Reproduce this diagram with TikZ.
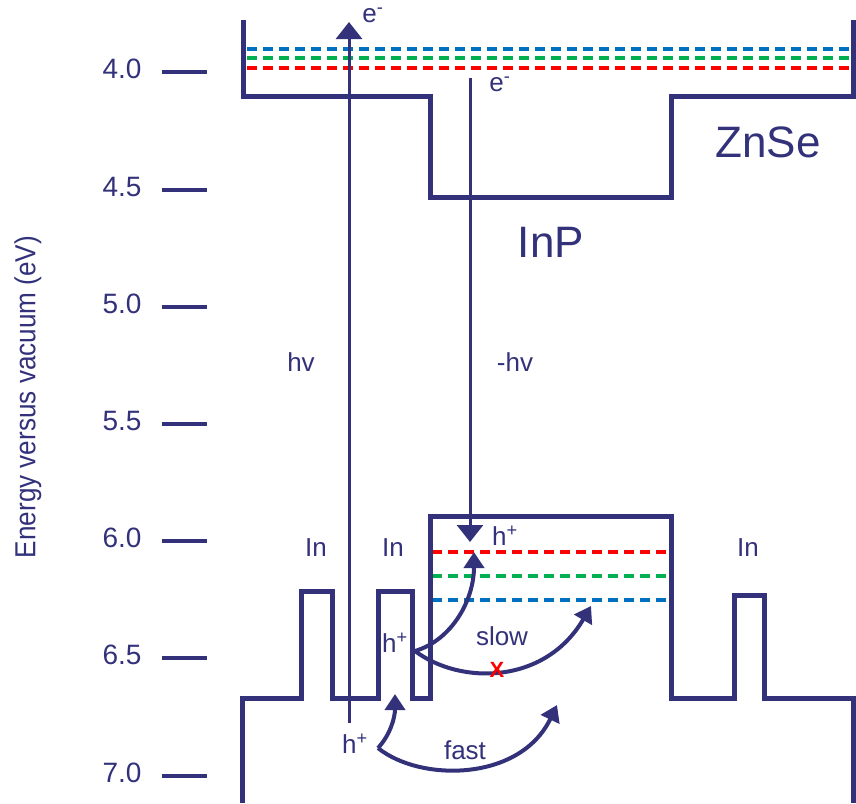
\documentclass[tikz,border=0pt]{standalone}
\usepackage{fontspec}
\setmainfont{Liberation Sans}
\usetikzlibrary{arrows.meta}
\definecolor{navy}{RGB}{50,49,122}
\definecolor{lvred}{RGB}{255,0,0}
\definecolor{lvgreen}{RGB}{0,176,80}
\definecolor{lvblue}{RGB}{0,112,192}
\tikzset{
  band/.style={navy, line width=5pt, line join=miter},
  tickmark/.style={navy, line width=4.5pt},
  lvl/.style={line width=3.5pt, dash pattern=on 10pt off 6pt},
  photon/.style={navy, line width=3pt, -{Triangle[width=26pt,length=17pt]}},
  hop/.style={navy, line width=4pt, -{Triangle[width=20pt,length=16pt]}},
  lbl/.style={text=navy, inner sep=0pt, font=\fontsize{26}{30}\selectfont},
  big/.style={text=navy, inner sep=0pt, font=\fontsize{44}{50}\selectfont},
  num/.style={text=navy, inner sep=0pt, font=\fontsize{28}{32}\selectfont}
}
\begin{document}
\begin{tikzpicture}[x=1pt,y=-1pt]
\useasboundingbox (0,0) rectangle (856,803);

% axis
\node[text=navy, rotate=90, inner sep=0pt, font=\fontsize{29}{33}\selectfont] (axlbl) at (28,397) {\scalebox{0.9}[1]{Energy versus vacuum (eV)}};
\foreach \v/\y [count=\i] in {4.0/72,4.5/190,5.0/307,5.5/424,6.0/541,6.5/658,7.0/776}{
  \node[num] (t\i) at (122,\y-3) {\v};
  \draw[tickmark] (162,\y) -- (207,\y);
}

% energy levels (dashed)
\draw[lvl, lvblue]  (247,49) -- (851,49);
\draw[lvl, lvgreen] (247,58) -- (851,58);
\draw[lvl, lvred]   (247,68) -- (851,68);
\draw[lvl, lvred]   (432,552) -- (669,552);
\draw[lvl, lvgreen] (432,576) -- (669,576);
\draw[lvl, lvblue]  (432,600) -- (669,600);

% bands
\draw[band] (243,20) -- (243,96) -- (430,96) -- (430,197) -- (671,197) -- (671,96) -- (853,96) -- (853,20);
\draw[band] (242,803) -- (242,698) -- (301,698) -- (301,591) -- (332,591) -- (332,698)
  -- (378,698) -- (378,591) -- (412,591) -- (412,698) -- (430,698) -- (430,516)
  -- (671,516) -- (671,698) -- (734,698) -- (734,595) -- (764,595) -- (764,698)
  -- (853,698) -- (853,803);

% labels
\node[big] (znse) at (768,142) {ZnSe};
\node[big] (inp) at (551,242) {InP};
\node[lbl] (in1) at (316,548) {In};
\node[lbl] (in2) at (393,548) {In};
\node[lbl] (in3) at (748,548) {In};
\node[lbl] (hv) at (301,362) {hv};
\node[lbl] (mhv) at (515,362) {-hv};
\node[lbl] (e1) at (373,15) {e\textsuperscript{-}};
\node[lbl] (e2) at (500,84) {e\textsuperscript{-}};
\node[lbl] (h1) at (505,536) {h\textsuperscript{+}};
\node[lbl] (h2) at (395,643) {h\textsuperscript{+}};
\node[lbl] (h3) at (355,744) {h\textsuperscript{+}};
\node[lbl] (slow) at (502,636) {slow};
\node[lbl] (fast) at (465,750) {fast};

% photon arrows
\coordinate (hvS) at (349,723);
\coordinate (hvE) at (349,22);
\draw[photon] (hvS) -- (hvE);
\coordinate (mhvS) at (470,78);
\coordinate (mhvE) at (470,542);
\draw[photon] (mhvS) -- (mhvE);

% hopping arrows
\coordinate (s1) at (415,651);
\coordinate (t1) at (474,552);
\coordinate (t2) at (591,606);
\coordinate (s3) at (378,748);
\coordinate (t3) at (395,694);
\coordinate (t4) at (557,705);
\draw[hop] (s1) .. controls (452,640) and (474,600) .. (t1);
\draw[hop] (s1) .. controls (460,685) and (545,685) .. (t2);
\draw[hop] (s3) .. controls (390,735) and (395,718) .. (t3);
\draw[hop] (s3) .. controls (420,782) and (520,782) .. (t4);

\node[text=lvred, inner sep=0pt, font=\bfseries\fontsize{22}{24}\selectfont] (xmark) at (497,670) {X};
\end{tikzpicture}
\end{document}
